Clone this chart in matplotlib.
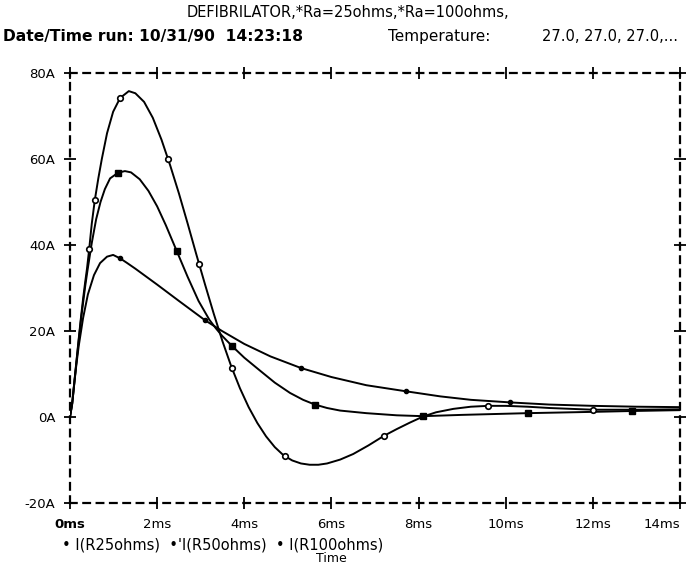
import matplotlib.pyplot as plt

# traces (time in ms, current in A)
t25 = [0, 0.05, 0.1, 0.15, 0.2, 0.25, 0.3, 0.35, 0.39, 0.44, 0.5, 0.57, 0.65, 0.73, 0.85,
       0.99, 1.15, 1.35, 1.5, 1.7, 1.9, 2.1, 2.3, 2.5, 2.7, 2.9, 3.1, 3.3, 3.5, 3.7,
       3.9, 4.1, 4.3, 4.5, 4.7, 4.9, 5.1, 5.3, 5.5, 5.7, 5.9, 6.2, 6.5, 6.85,
       7.2, 7.5, 7.8, 8.1, 8.4, 8.8, 9.2, 9.6, 10.0, 10.5, 11.0, 11.5, 12.0, 13.0, 14.0]
i25 = [0, 3.2, 8.2, 13.2, 18.2, 23, 27.5, 31.5, 34.5, 39, 45, 50.5, 55.5, 60, 66,
       71, 74.2, 75.8, 75.3, 73.3, 69.6, 64.5, 58.5, 52, 45, 37.8, 30.8, 24, 17.6, 11.8,
       6.7, 2.3, -1.4, -4.5, -7.0, -8.9, -10.1, -10.8, -11.1, -11.1, -10.8, -9.9, -8.6, -6.6,
       -4.4, -2.8, -1.3, 0.1, 1.1, 1.9, 2.4, 2.6, 2.6, 2.4, 2.1, 1.9, 1.7, 1.7, 1.8]

t50 = [0, 0.05, 0.1, 0.15, 0.2, 0.25, 0.3, 0.35, 0.4, 0.5, 0.6, 0.7, 0.8, 0.92, 1.1,
       1.26, 1.4, 1.6, 1.8, 2.0, 2.2, 2.45, 2.7, 2.95, 3.2, 3.35, 3.49, 3.72, 4.0, 4.36,
       4.7, 5.05, 5.35, 5.62, 5.9, 6.2, 6.8, 7.5, 8.1, 9.0, 10.5, 12.0, 12.9, 14.0]
i50 = [0, 3.1, 8, 13, 17.8, 22.5, 26.5, 30.5, 34, 40.5, 46, 50, 53, 55.5, 56.8,
       57.2, 56.9, 55.3, 52.6, 49, 44.6, 38.6, 32.6, 27, 22.6, 20.6, 18.9, 16.5, 13.8, 10.8,
       8.0, 5.6, 4.0, 2.9, 2.1, 1.5, 0.9, 0.4, 0.2, 0.5, 0.9, 1.2, 1.4, 1.6]

t100 = [0, 0.05, 0.1, 0.15, 0.2, 0.3, 0.41, 0.55, 0.69, 0.85, 0.99, 1.15, 1.3, 1.5, 2.0,
        2.5, 3.1, 3.49, 4.0, 4.6, 5.3, 6.0, 6.8, 7.7, 8.5, 9.2, 10.1, 11.0, 12.0, 13.0, 14.0]
i100 = [0, 3, 8, 12.5, 16.5, 23, 28.5, 33, 35.8, 37.3, 37.7, 36.9, 35.9, 34.5, 30.8,
        27, 22.5, 20, 17, 14.1, 11.4, 9.3, 7.4, 6.0, 4.8, 4.0, 3.4, 2.9, 2.6, 2.4, 2.3]

# symbol positions along each trace
m25_t = [0.44, 0.57, 1.15, 2.25, 2.96, 3.72, 4.93, 7.2, 9.6, 12.0]
m25_i = [39, 50.5, 74.2, 60, 35.6, 11.3, -9.1, -4.4, 2.6, 1.7]
m50_t = [1.1, 2.45, 3.72, 5.62, 8.1, 10.5, 12.9]
m50_i = [56.8, 38.6, 16.5, 2.9, 0.2, 0.9, 1.4]
m100_t = [1.15, 3.1, 5.3, 7.7, 10.1]
m100_i = [36.9, 22.5, 11.4, 6.0, 3.4]

xticks = [0, 2, 4, 6, 8, 10, 12, 14]
xlabels = ['0ms', '2ms', '4ms', '6ms', '8ms', '10ms', '12ms', '14ms']
yticks = [-20, 0, 20, 40, 60, 80]
ylabels = ['-20A', '0A', '20A', '40A', '60A', '80A']

fig = plt.figure(figsize=(6.91, 5.65), dpi=100)
ax = fig.add_axes([0.1013, 0.1097, 0.8828, 0.761])

ax.plot(t25, i25, color='black', lw=1.4)
ax.plot(t50, i50, color='black', lw=1.4)
ax.plot(t100, i100, color='black', lw=1.4)
ax.plot(m25_t, m25_i, 'o', ms=4, mfc='white', mec='black', mew=1.2)
ax.plot(m50_t, m50_i, 's', ms=4, color='black')
ax.plot(m100_t, m100_i, 'o', ms=3, color='black')

ax.set_xlim(0, 14)
ax.set_ylim(-20, 80)
ax.set_xticks(xticks)
ax.set_xticklabels(xlabels, fontsize=9.5)
ax.set_yticks(yticks)
ax.set_yticklabels(ylabels, fontsize=9.5)
ax.get_xticklabels()[0].set_fontweight('bold')
ax.get_xticklabels()[-1].set_ha('right')
ax.tick_params(direction='inout', length=9, width=1.3, top=True, right=True, pad=6)

for s in ax.spines.values():
    s.set_linestyle((0, (3, 3)))
    s.set_linewidth(1.6)

fig.text(0.503, 0.977, 'DEFIBRILATOR,*Ra=25ohms,*Ra=100ohms,', ha='center', va='center', fontsize=10.5)
fig.text(0.005, 0.936, 'Date/Time run: 10/31/90  14:23:18', ha='left', va='center', fontsize=11.2,
         fontweight='bold')
fig.text(0.561, 0.936, 'Temperature:', ha='left', va='center', fontsize=11)
fig.text(0.785, 0.936, '27.0, 27.0, 27.0,...', ha='left', va='center', fontsize=10.5)

fig.text(0.09, 0.035, '\u2022 I(R25ohms)  \u2022\'I(R50ohms)  \u2022 I(R100ohms)', ha='left',
         va='center', fontsize=10.5)
fig.text(0.48, 0.012, 'Time', ha='center', va='center', fontsize=9)

fig.savefig('out.png')
